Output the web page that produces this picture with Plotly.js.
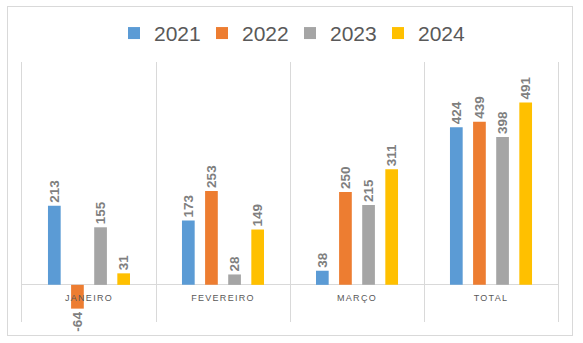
<!DOCTYPE html>
<html><head><meta charset="utf-8">
<script src="https://cdn.plot.ly/plotly-3.0.1.min.js"></script>
<style>
html,body{margin:0;padding:0;background:#fff;}
#frame{position:absolute;left:7px;top:6px;width:566px;height:330px;border:1px solid #d9d9d9;box-sizing:border-box;}
#chart{position:absolute;left:0;top:0;width:583px;height:343px;}
#chart .xtick text{letter-spacing:1.3px;}
</style></head>
<body>
<div id="frame"></div>
<div id="chart"></div>
<script>
const categories = ["JANEIRO", "FEVEREIRO", "MARÇO", "TOTAL"];
const seriesNames = ["2021", "2022", "2023", "2024"];
const v2021 = [213, 173, 38, 424];
const v2022 = [-64, 253, 250, 439];
const v2023 = [155, 28, 215, 398];
const v2024 = [31, 149, 311, 491];
const colors = ["#5B9BD5", "#ED7D31", "#A5A5A5", "#FFC000"];
const values = [v2021, v2022, v2023, v2024];
const yMin = -100, yMax = 600;

const traces = values.map((vals, i) => ({
  type: 'bar',
  name: seriesNames[i],
  x: categories,
  y: vals,
  marker: {color: colors[i]},
  text: vals.map(String),
  textposition: 'outside',
  textangle: -90,
  textfont: {family: 'Liberation Sans, Arial, sans-serif', size: 13.5, color: '#7F7F7F', weight: 'bold'},
  constraintext: 'none',
  cliponaxis: false,
  hoverinfo: 'none'
}));

const layout = {
  width: 583, height: 343,
  margin: {l: 22, r: 25, t: 62, b: 21},
  paper_bgcolor: 'rgba(0,0,0,0)',
  plot_bgcolor: 'rgba(0,0,0,0)',
  barmode: 'group',
  bargap: 0.31,
  bargroupgap: 0.45,
  showlegend: true,
  legend: {orientation: 'h', x: 0.5, xanchor: 'center', y: 1.11, yanchor: 'middle',
    entrywidth: 43, entrywidthmode: 'pixels',
    font: {family: 'Liberation Sans, Arial, sans-serif', size: 21, color: '#595959'}, itemclick: false},
  xaxis: {
    type: 'category',
    tickson: 'boundaries',
    showgrid: true, gridcolor: '#D9D9D9', gridwidth: 1,
    showline: false,
    ticks: '', ticklabelstandoff: 6,
    anchor: 'free', position: (0 - yMin) / (yMax - yMin),
    tickfont: {family: 'Liberation Sans, Arial, sans-serif', size: 9, color: '#595959'},
    fixedrange: true
  },
  yaxis: {
    range: [yMin, yMax],
    showgrid: false, showticklabels: false, ticks: '',
    zeroline: true, zerolinecolor: '#D9D9D9', zerolinewidth: 1,
    showline: true, mirror: true, linecolor: '#D9D9D9', linewidth: 1,
    fixedrange: true
  }
};
Plotly.newPlot('chart', traces, layout, {displayModeBar: false, staticPlot: true});
</script>
</body></html>
